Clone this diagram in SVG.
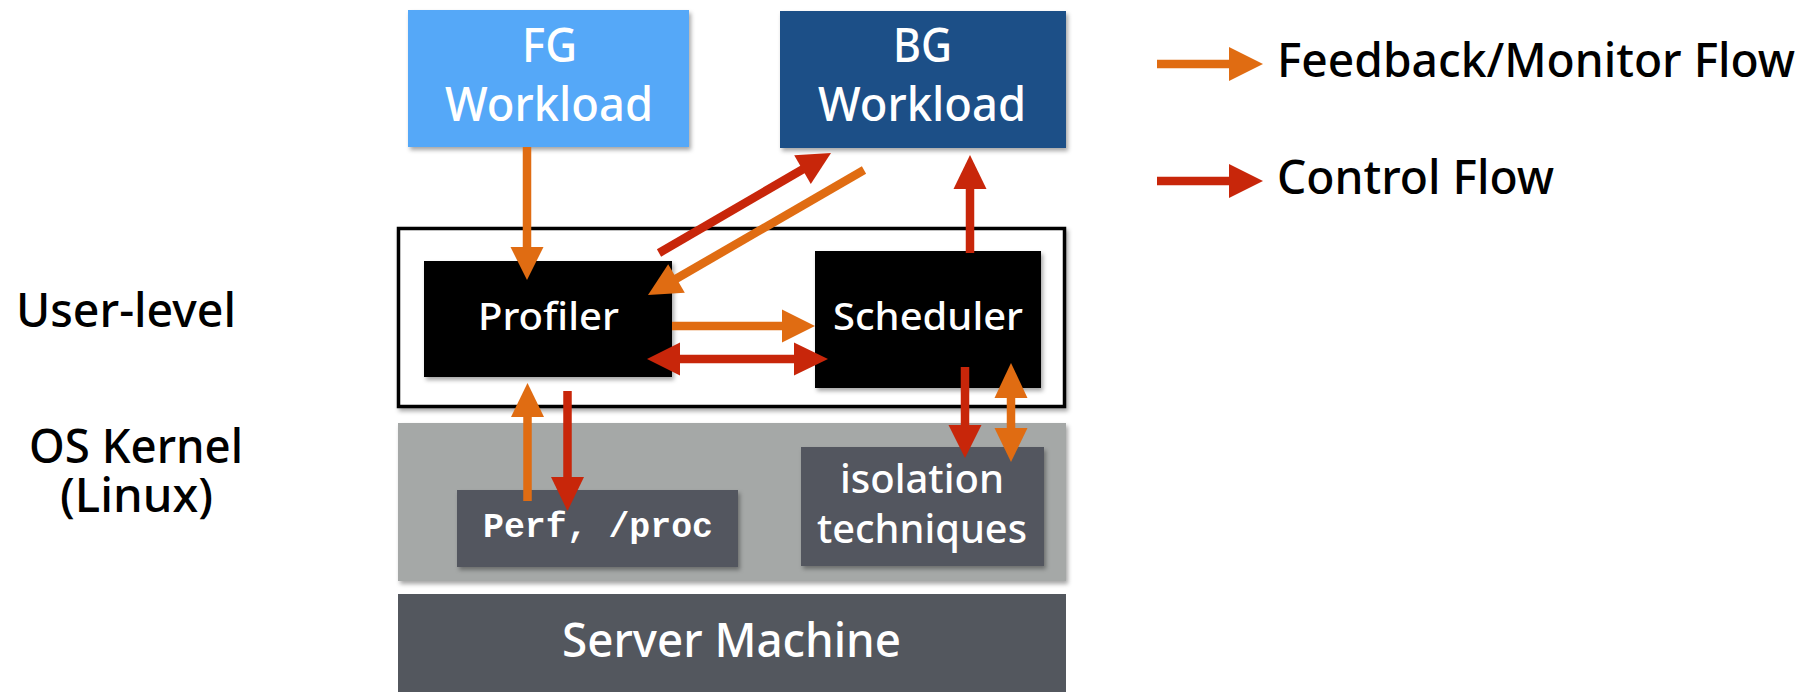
<svg xmlns="http://www.w3.org/2000/svg" width="1820" height="692" viewBox="0 0 1820 692">
<defs>
<filter id="sh" x="-10%" y="-10%" width="130%" height="130%">
<feDropShadow dx="2" dy="3" stdDeviation="2" flood-color="#000" flood-opacity="0.35"/>
</filter>
<style>
text{font-family:"Noto Sans","DejaVu Sans",sans-serif;font-weight:500}
.w{fill:#ffffff}
.k{fill:#000000}
.big{font-size:47px}
.mid{font-size:38px}
.mono{font-family:"Liberation Mono","Courier New",monospace;font-weight:700;font-size:35px;fill:#ffffff}
.o{stroke:#e06c12;stroke-width:8.5;fill:none}
.r{stroke:#c8260a;stroke-width:8.5;fill:none}
.oh{fill:#e06c12}
.rh{fill:#c8260a}
</style>
</defs>
<rect width="1820" height="692" fill="#ffffff"/>

<g id="labels">
<text class="k big" x="16" y="327" textLength="220" lengthAdjust="spacingAndGlyphs">User-level</text>
<text class="k big" x="29" y="463" textLength="214" lengthAdjust="spacingAndGlyphs">OS Kernel</text>
<text class="k big" x="60" y="512" textLength="153" lengthAdjust="spacingAndGlyphs">(Linux)</text>
</g>

<g id="user-level">
<rect x="398.5" y="228.5" width="666" height="178" fill="#ffffff" stroke="#000" stroke-width="3.5" filter="url(#sh)"/>
</g>

<g id="os-kernel">
<rect x="398" y="423" width="668" height="158" fill="#a5a8a7" filter="url(#sh)"/>
</g>

<g id="server-machine">
<rect x="398" y="594" width="668" height="110" fill="#53575e"/>
<text class="w big" x="562" y="657" textLength="339" lengthAdjust="spacingAndGlyphs">Server Machine</text>
</g>

<g id="fg-workload">
<rect x="408" y="10" width="281" height="137" fill="#55a8f8" filter="url(#sh)"/>
<text class="w big" x="522" y="62" textLength="55" lengthAdjust="spacingAndGlyphs">FG</text>
<text class="w big" x="445" y="121" textLength="208" lengthAdjust="spacingAndGlyphs">Workload</text>
</g>

<g id="bg-workload">
<rect x="780" y="11" width="286" height="137" fill="#1a5087" filter="url(#sh)"/>
<text class="w big" x="893" y="62" textLength="59" lengthAdjust="spacingAndGlyphs">BG</text>
<text class="w big" x="818" y="121" textLength="208" lengthAdjust="spacingAndGlyphs">Workload</text>
</g>

<g id="profiler">
<rect x="424" y="261" width="248" height="116" fill="#000" filter="url(#sh)"/>
<text class="w mid" x="478" y="330" textLength="141" lengthAdjust="spacingAndGlyphs">Profiler</text>
</g>

<g id="scheduler">
<rect x="815" y="251" width="226" height="137" fill="#000" filter="url(#sh)"/>
<text class="w mid" x="833" y="330" textLength="190" lengthAdjust="spacingAndGlyphs">Scheduler</text>
</g>

<g id="perf">
<rect x="457" y="490" width="281" height="77" fill="#53575e" filter="url(#sh)"/>
<text class="mono" x="483" y="537" textLength="230" lengthAdjust="spacingAndGlyphs">Perf, /proc</text>
</g>

<g id="isolation">
<rect x="801" y="447" width="243" height="119" fill="#53575e" filter="url(#sh)"/>
<text class="w" style="font-size:40px" x="840" y="493" textLength="164" lengthAdjust="spacingAndGlyphs">isolation</text>
<text class="w" style="font-size:40px" x="817" y="543" textLength="210" lengthAdjust="spacingAndGlyphs">techniques</text>
</g>

<g id="connectors">
<line class="o" x1="527" y1="147" x2="527" y2="250"/>
<polygon class="oh" points="510.5,247 543.5,247 527,280"/>

<line class="r" x1="659" y1="253" x2="805" y2="168"/>
<polygon class="rh" points="831,153 810.8,183.9 794.2,155.3"/>

<line class="o" x1="864" y1="170" x2="674" y2="280"/>
<polygon class="oh" points="648,295 684.8,292.8 668.2,264.2"/>

<line class="r" x1="970" y1="253" x2="970" y2="186"/>
<polygon class="rh" points="953.5,189 986.5,189 970,155"/>

<line class="o" x1="672" y1="326" x2="784" y2="326"/>
<polygon class="oh" points="782,309.5 782,342.5 815,326"/>

<line class="r" x1="678" y1="359" x2="796" y2="359"/>
<polygon class="rh" points="647,359 680,342.5 680,375.5"/>
<polygon class="rh" points="828,359 794,342.5 794,375.5"/>

<line class="o" x1="527.5" y1="501" x2="527.5" y2="415"/>
<polygon class="oh" points="511,417 544,417 527.5,383"/>

<line class="r" x1="567.5" y1="391" x2="567.5" y2="480"/>
<polygon class="rh" points="551,477 584,477 567.5,511"/>

<line class="r" x1="965" y1="367" x2="965" y2="428"/>
<polygon class="rh" points="948.5,425 981.5,425 965,458"/>

<line class="o" x1="1011" y1="396" x2="1011" y2="430"/>
<polygon class="oh" points="994.5,398 1027.5,398 1011,363"/>
<polygon class="oh" points="994.5,428 1027.5,428 1011,462"/>
</g>

<g id="legend">
<line class="o" x1="1157" y1="64" x2="1231" y2="64"/>
<polygon class="oh" points="1229,47 1229,81 1263,64"/>
<text class="k big" x="1277" y="77" textLength="518" lengthAdjust="spacingAndGlyphs">Feedback/Monitor Flow</text>
<line class="r" x1="1157" y1="181" x2="1231" y2="181"/>
<polygon class="rh" points="1229,164 1229,198 1263,181"/>
<text class="k big" x="1277" y="194" textLength="277" lengthAdjust="spacingAndGlyphs">Control Flow</text>
</g>
</svg>
